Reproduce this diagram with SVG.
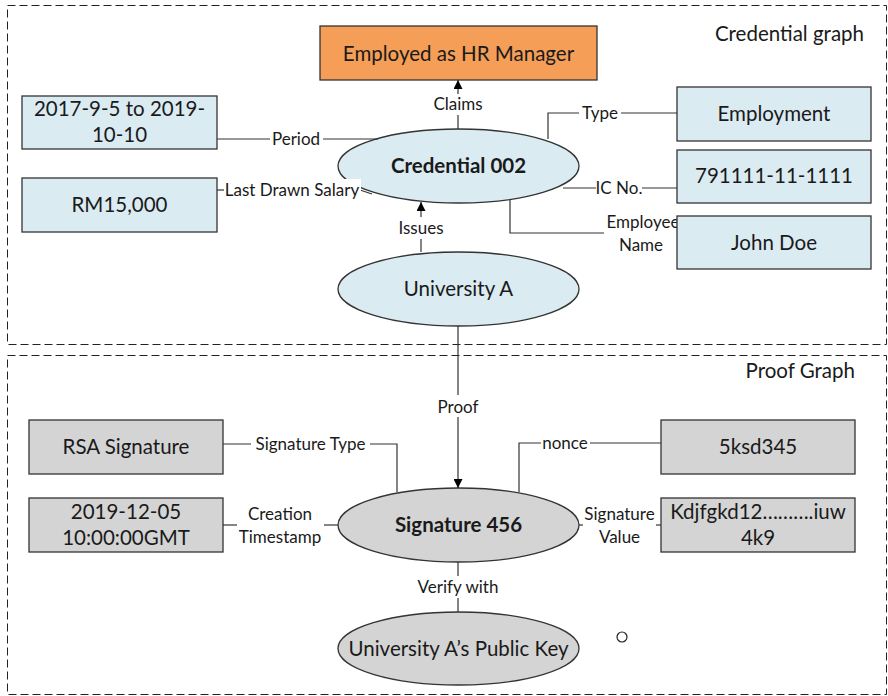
<svg xmlns="http://www.w3.org/2000/svg" width="888" height="696" viewBox="0 0 888 696">
<defs>
<style>
text{font-family:Lato,"Liberation Sans",sans-serif;fill:#1a1a1a}
.frame{fill:none;stroke:#222;stroke-width:1;stroke-dasharray:8,4}
.blue{fill:#dbebf2;stroke:#333;stroke-width:1.3}
.gray{fill:#d4d4d4;stroke:#333;stroke-width:1.3}
.orange{fill:#f59e58;stroke:#333;stroke-width:1.3}
.nt{font-size:20.5px;text-anchor:middle}
.bt{font-size:20.5px;text-anchor:middle;font-weight:bold}
.lb{font-size:17px;text-anchor:middle}
.ln{fill:none;stroke:#333;stroke-width:1.2}
.bg{fill:#fff}
</style>
<marker id="arr" viewBox="0 0 10 10" refX="10" refY="5" markerWidth="13" markerHeight="9" markerUnits="userSpaceOnUse" orient="auto"><path d="M0,0 L10,5 L0,10 z" fill="#000"/></marker>
</defs>
<rect width="888" height="696" fill="#fff"/>
<rect class="frame" x="7.5" y="5.5" width="879" height="339"/>
<rect class="frame" x="7.5" y="355.5" width="879" height="339"/>
<text x="864" y="41" style="font-size:20.5px;text-anchor:end">Credential graph</text>
<text x="855" y="378" style="font-size:20.5px;text-anchor:end">Proof Graph</text>

<g id="credential002"><ellipse class="blue" cx="458.5" cy="166" rx="120.5" ry="37"/><text class="bt" x="458.5" y="173">Credential 002</text></g>
<g id="universityA"><ellipse class="blue" cx="458.5" cy="289" rx="120.5" ry="37"/><text class="nt" x="458.5" y="296">University A</text></g>
<g id="signature456"><ellipse class="gray" cx="458.5" cy="525" rx="120.5" ry="37"/><text class="bt" x="458.5" y="532">Signature 456</text></g>
<g id="publicKey"><ellipse class="gray" cx="458.5" cy="648.5" rx="120.5" ry="36.5"/><text class="nt" x="458.5" y="655.5">University A’s Public Key</text></g>

<g id="connectors">
<line class="ln" x1="458" y1="129" x2="458" y2="80" marker-end="url(#arr)"/>
<rect class="bg" x="428" y="94" width="60" height="21"/>
<text class="lb" x="458" y="110">Claims</text>
<line class="ln" x1="217" y1="139" x2="378" y2="139"/>
<rect class="bg" x="270" y="129" width="53" height="20"/>
<text class="lb" x="296" y="145">Period</text>
<polyline class="ln" points="217,190 224,190"/>
<line class="ln" x1="360" y1="190" x2="372" y2="194"/>
<rect class="bg" x="224" y="179" width="137" height="21"/>
<text class="lb" x="292" y="196">Last Drawn Salary</text>
<line class="ln" x1="421" y1="252" x2="421" y2="202" marker-end="url(#arr)"/>
<rect class="bg" x="392" y="217" width="58" height="22"/>
<text class="lb" x="421" y="234">Issues</text>
<polyline class="ln" points="548,139 548,113 677,113"/>
<rect class="bg" x="579" y="103" width="42" height="20"/>
<text class="lb" x="600" y="119">Type</text>
<line class="ln" x1="563" y1="188" x2="677" y2="188"/>
<rect class="bg" x="596" y="178" width="46" height="20"/>
<text class="lb" x="619" y="194">IC No.</text>
<polyline class="ln" points="510,200 510,233 604,233"/>
<text class="lb" x="643" y="228">Employee</text>
<text class="lb" x="641" y="251">Name</text>
<line class="ln" x1="458" y1="326" x2="458" y2="488" marker-end="url(#arr)"/>
<rect class="bg" x="432" y="395" width="52" height="22"/>
<text class="lb" x="458" y="413">Proof</text>
<polyline class="ln" points="223,444 397,444 397,492"/>
<rect class="bg" x="251" y="434" width="119" height="20"/>
<text class="lb" x="310.5" y="450">Signature Type</text>
<line class="ln" x1="223" y1="525" x2="237" y2="525"/>
<line class="ln" x1="324" y1="525" x2="338" y2="525"/>
<text class="lb" x="280" y="520">Creation</text>
<text class="lb" x="280" y="543">Timestamp</text>
<polyline class="ln" points="519,492 519,443 661,443"/>
<rect class="bg" x="541" y="433" width="49" height="20"/>
<text class="lb" x="565" y="449">nonce</text>
<line class="ln" x1="579" y1="525" x2="583" y2="525"/>
<line class="ln" x1="656" y1="525" x2="661" y2="525"/>
<text class="lb" x="619.5" y="520">Signature</text>
<text class="lb" x="619.5" y="543">Value</text>
<line class="ln" x1="458" y1="562" x2="458" y2="612"/>
<rect class="bg" x="410" y="576" width="96" height="22"/>
<text class="lb" x="458" y="593">Verify with</text>
</g>

<g id="claim"><rect class="orange" x="320" y="26" width="277" height="54"/><text class="nt" x="458.5" y="60.5">Employed as HR Manager</text></g>
<g id="period"><rect class="blue" x="22" y="96" width="195" height="53"/><text class="nt" x="119.5" y="116">2017-9-5 to 2019-</text><text class="nt" x="119.5" y="142">10-10</text></g>
<g id="salary"><rect class="blue" x="22" y="178" width="195" height="54"/><text class="nt" x="119.5" y="212">RM15,000</text></g>
<g id="employment"><rect class="blue" x="677" y="87" width="194" height="54"/><text class="nt" x="774" y="121">Employment</text></g>
<g id="icNumber"><rect class="blue" x="677" y="150" width="194" height="53"/><text class="nt" x="774" y="183">791111-11-1111</text></g>
<g id="johnDoe"><rect class="blue" x="677" y="216" width="194" height="53"/><text class="nt" x="774" y="250">John Doe</text></g>
<g id="rsaSignature"><rect class="gray" x="29" y="420" width="194" height="54"/><text class="nt" x="126" y="454">RSA Signature</text></g>
<g id="timestamp"><rect class="gray" x="29" y="498" width="194" height="54"/><text class="nt" x="126" y="519">2019-12-05</text><text class="nt" x="126" y="545">10:00:00GMT</text></g>
<g id="nonceValue"><rect class="gray" x="661" y="420" width="194" height="54"/><text class="nt" x="758" y="454">5ksd345</text></g>
<g id="signatureValue"><rect class="gray" x="661" y="498" width="194" height="54"/><text class="nt" x="758" y="519">Kdjfgkd12……….iuw</text><text class="nt" x="758" y="545">4k9</text></g>
<circle cx="622" cy="637" r="5" fill="#fff" stroke="#222" stroke-width="1.2"/>
</svg>
